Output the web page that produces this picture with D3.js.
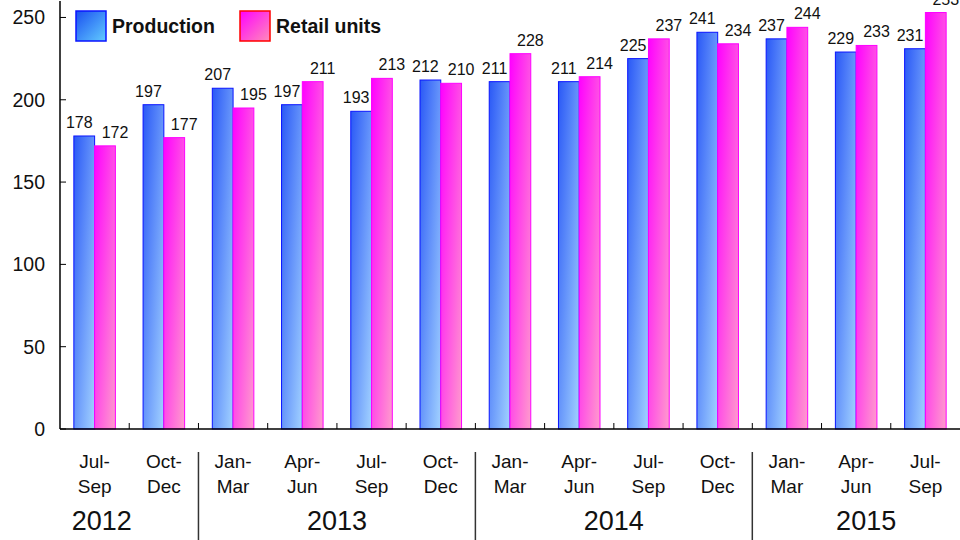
<!DOCTYPE html>
<html>
<head>
<meta charset="utf-8">
<script src="https://cdn.jsdelivr.net/npm/d3@7"></script>
<style>
  body { margin: 0; background: #fff; }
  svg { display: block; font-family: "Liberation Sans", Arial, sans-serif; }
</style>
</head>
<body>
<svg id="chart"></svg>
<script>
// chart data
const quarters = ["Jul-Sep", "Oct-Dec", "Jan-Mar", "Apr-Jun", "Jul-Sep", "Oct-Dec", "Jan-Mar",
  "Apr-Jun", "Jul-Sep", "Oct-Dec", "Jan-Mar", "Apr-Jun", "Jul-Sep"];
const years = ["2012", "2013", "2014", "2015"];
const quartersPerYear = [2, 4, 4, 3];
const production = [178, 197, 207, 197, 193, 212, 211, 211, 225, 241, 237, 229, 231];
const retail = [172, 177, 195, 211, 213, 210, 228, 214, 237, 234, 244, 233, 253];
const seriesNames = ["Production", "Retail units"];
const yTicks = [0, 50, 100, 150, 200, 250];

const width = 960, height = 540;
const plotLeft = 60, plotRight = 960, plotBottom = 429, plotTop = 1;

const svg = d3.select("#chart").attr("width", width).attr("height", height);

// gradients
const defs = svg.append("defs");
function grad(id, c0, c1) {
  const g = defs.append("linearGradient").attr("id", id)
    .attr("x1", 0).attr("y1", 0).attr("x2", 1).attr("y2", 1);
  g.append("stop").attr("offset", "0%").attr("stop-color", c0);
  g.append("stop").attr("offset", "100%").attr("stop-color", c1);
}
grad("gProd", "#2a58f6", "#a2d2ff");
grad("gRet", "#ff00ff", "#ff9ccc");
grad("gProdLeg", "#1a4ff0", "#62ccff");
grad("gRetLeg", "#ff00ff", "#ff8cb8");

const fills = ["url(#gProd)", "url(#gRet)"];
const strokes = ["#0a14ff", "#ff00ff"];

const x = d3.scaleBand()
  .domain(d3.range(quarters.length))
  .range([plotLeft, plotRight])
  .paddingInner(0.4)
  .paddingOuter(0.2);

const xs = d3.scaleBand().domain([0, 1]).range([0, x.bandwidth()]);

const y = d3.scaleLinear().domain([0, 260]).range([plotBottom, plotTop]);

const rows = quarters.map((q, i) => [production[i], retail[i]]);

// bars
const groups = svg.append("g").selectAll("g")
  .data(rows)
  .enter()
  .append("g")
  .attr("transform", (d, i) => "translate(" + x(i) + ",0)");

groups.selectAll("rect")
  .data(d => d)
  .enter()
  .append("rect")
  .attr("x", (d, j) => xs(j))
  .attr("y", d => y(d))
  .attr("width", xs.bandwidth())
  .attr("height", d => plotBottom - y(d))
  .style("fill", (d, j) => fills[j])
  .style("stroke", (d, j) => strokes[j])
  .style("stroke-width", 1);

// value labels
const labelShift = [-5, 10];
groups.selectAll("text")
  .data(d => d)
  .enter()
  .append("text")
  .attr("x", (d, j) => xs(j) + xs.bandwidth() / 2 + labelShift[j])
  .attr("y", d => y(d) - 8)
  .attr("text-anchor", "middle")
  .style("font-size", "16px")
  .style("fill", "#111")
  .text(d => d);

// y axis
const yAxis = svg.append("g");
yAxis.append("line")
  .attr("x1", plotLeft).attr("x2", plotLeft)
  .attr("y1", plotTop).attr("y2", plotBottom)
  .style("stroke", "#000").style("stroke-width", 1.5);
yAxis.selectAll("line.tick")
  .data(yTicks)
  .enter()
  .append("line")
  .attr("class", "tick")
  .attr("x1", plotLeft).attr("x2", plotLeft + 6)
  .attr("y1", d => y(d)).attr("y2", d => y(d))
  .style("stroke", "#000").style("stroke-width", 1);
yAxis.selectAll("text")
  .data(yTicks)
  .enter()
  .append("text")
  .attr("x", 45)
  .attr("y", d => y(d))
  .attr("dy", "0.36em")
  .attr("text-anchor", "end")
  .style("font-size", "19.5px")
  .style("fill", "#111")
  .text(d => d);

// x axis
const xAxis = svg.append("g");
xAxis.append("line")
  .attr("x1", plotLeft).attr("x2", plotRight)
  .attr("y1", plotBottom).attr("y2", plotBottom)
  .style("stroke", "#000").style("stroke-width", 1.5);
xAxis.selectAll("line.tick")
  .data(d3.range(1, quarters.length))
  .enter()
  .append("line")
  .attr("class", "tick")
  .attr("x1", i => x(i) - x.step() * x.paddingInner() / 2)
  .attr("x2", i => x(i) - x.step() * x.paddingInner() / 2)
  .attr("y1", plotBottom - 6).attr("y2", plotBottom)
  .style("stroke", "#000").style("stroke-width", 1);

const qLabels = xAxis.selectAll("text.q")
  .data(quarters)
  .enter()
  .append("text")
  .attr("class", "q")
  .attr("text-anchor", "middle")
  .style("font-size", "19px")
  .style("fill", "#111");
qLabels.append("tspan")
  .attr("x", (d, i) => x(i) + x.bandwidth() / 2)
  .attr("y", 468)
  .text(d => d.split("-")[0] + "-");
qLabels.append("tspan")
  .attr("x", (d, i) => x(i) + x.bandwidth() / 2)
  .attr("y", 493)
  .text(d => d.split("-")[1]);

// year groups
const edge = i => plotLeft + i * x.step();
let start = 0;
const spans = quartersPerYear.map((n, k) => {
  const s = { year: years[k], a: start, b: start + n };
  start += n;
  return s;
});

xAxis.selectAll("line.sep")
  .data(spans.slice(1))
  .enter()
  .append("line")
  .attr("class", "sep")
  .attr("x1", d => edge(d.a)).attr("x2", d => edge(d.a))
  .attr("y1", 452).attr("y2", height)
  .style("stroke", "#333").style("stroke-width", 1.5);

xAxis.selectAll("text.year")
  .data(spans)
  .enter()
  .append("text")
  .attr("class", "year")
  .attr("x", d => {
    // partial years are centred on their full four-quarter span, clipped to the page
    let a = edge(d.a), b = edge(d.b);
    if (d.b - d.a < 4) {
      if (d.a === 0) a = Math.max(5, b - 4 * x.step());
      else b = Math.min(980, a + 4 * x.step());
    }
    return (a + b) / 2;
  })
  .attr("y", 530)
  .attr("text-anchor", "middle")
  .style("font-size", "27px")
  .style("fill", "#111")
  .text(d => d.year);

// legend
const legend = svg.append("g");
const legX = [76, 240];
const legFills = ["url(#gProdLeg)", "url(#gRetLeg)"];
const legStrokes = ["#0a14ff", "#ff0000"];
seriesNames.forEach((name, j) => {
  legend.append("rect")
    .attr("x", legX[j]).attr("y", 11)
    .attr("width", 30).attr("height", 30)
    .style("fill", legFills[j])
    .style("stroke", legStrokes[j])
    .style("stroke-width", 1.5);
  legend.append("text")
    .attr("x", legX[j] + 36).attr("y", 33)
    .style("font-size", "19.5px")
    .style("font-weight", "bold")
    .style("fill", "#111")
    .text(name);
});
</script>
</body>
</html>
